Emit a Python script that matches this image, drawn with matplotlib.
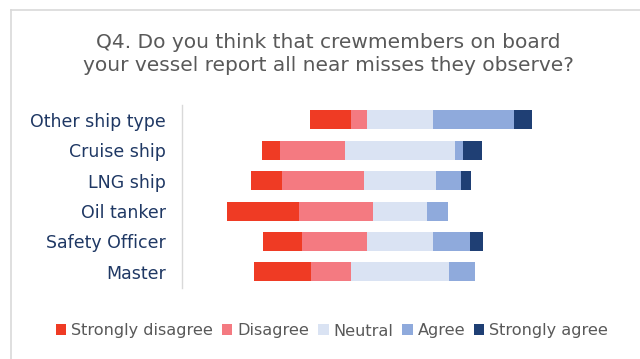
import matplotlib
matplotlib.use("Agg")
import matplotlib.pyplot as plt
from matplotlib.lines import Line2D
from matplotlib.patches import Patch
import numpy as np

categories = ["Master", "Safety Officer", "Oil tanker", "LNG ship", "Cruise ship", "Other ship type"]
strongly_disagree = [25.8, 17.8, 32.8, 14.3, 8.1, 18.6]
disagree = [18.4, 29.4, 33.5, 36.8, 29.6, 7.1]
neutral = [44.0, 29.7, 24.0, 32.8, 49.6, 29.7]
agree = [11.9, 16.7, 9.6, 11.1, 3.9, 36.7]
strongly_agree = [0.0, 6.2, 0.0, 4.8, 8.6, 8.0]

series_names = ["Strongly disagree", "Disagree", "Neutral", "Agree", "Strongly agree"]
colors = ["#EF3B24", "#F47A81", "#DAE3F3", "#8FAADC", "#1F3F74"]

title = "Q4. Do you think that crewmembers on board\nyour vessel report all near misses they observe?"

W, H = 640, 359
fig = plt.figure(figsize=(W / 100, H / 100), dpi=100)
fig.patch.set_facecolor("white")

# light chart frame (top and left edges)
fig.add_artist(Line2D([11 / W, 1], [1 - 10 / H, 1 - 10 / H], color="#D9D9D9", lw=1.2))
fig.add_artist(Line2D([11 / W, 11 / W], [0, 1 - 10 / H], color="#D9D9D9", lw=1.2))

ax = fig.add_axes([182 / W, 1 - 288 / H, 436 / W, 183 / H])

y = np.arange(len(categories))
series = [strongly_disagree, disagree, neutral, agree, strongly_agree]
sd = np.array(strongly_disagree)
d = np.array(disagree)
n = np.array(neutral)
left = -(sd + d + n / 2)
for vals, col in zip(series, colors):
    vals = np.array(vals)
    ax.barh(y, vals, left=left, height=0.625, color=col, edgecolor="none")
    left = left + vals

ax.set_xlim(-98.6, 98.6)
ax.set_ylim(-0.53, 5.49)
ax.set_xticks([])
ax.set_yticks(y)
ax.set_yticklabels(categories, fontsize=12.5, color="#1F3864")
ax.tick_params(axis="y", length=0, pad=11.5)
for s in ["top", "right", "bottom"]:
    ax.spines[s].set_visible(False)
ax.spines["left"].set_color("#D9D9D9")
ax.spines["left"].set_linewidth(1.0)

fig.text(328 / W, 1 - 54 / H, title, ha="center", va="center", fontsize=14.5,
         color="#595959", linespacing=1.3)

handles = [Patch(facecolor=c, edgecolor="none") for c in colors]
fig.legend(handles, series_names, loc="center", bbox_to_anchor=(332 / W, 1 - 331 / H),
           ncol=5, frameon=False, fontsize=11.6, handlelength=0.65, handleheight=0.65,
           handletextpad=0.3, columnspacing=0.55, labelcolor="#595959")

fig.savefig("out.png", dpi=100)
